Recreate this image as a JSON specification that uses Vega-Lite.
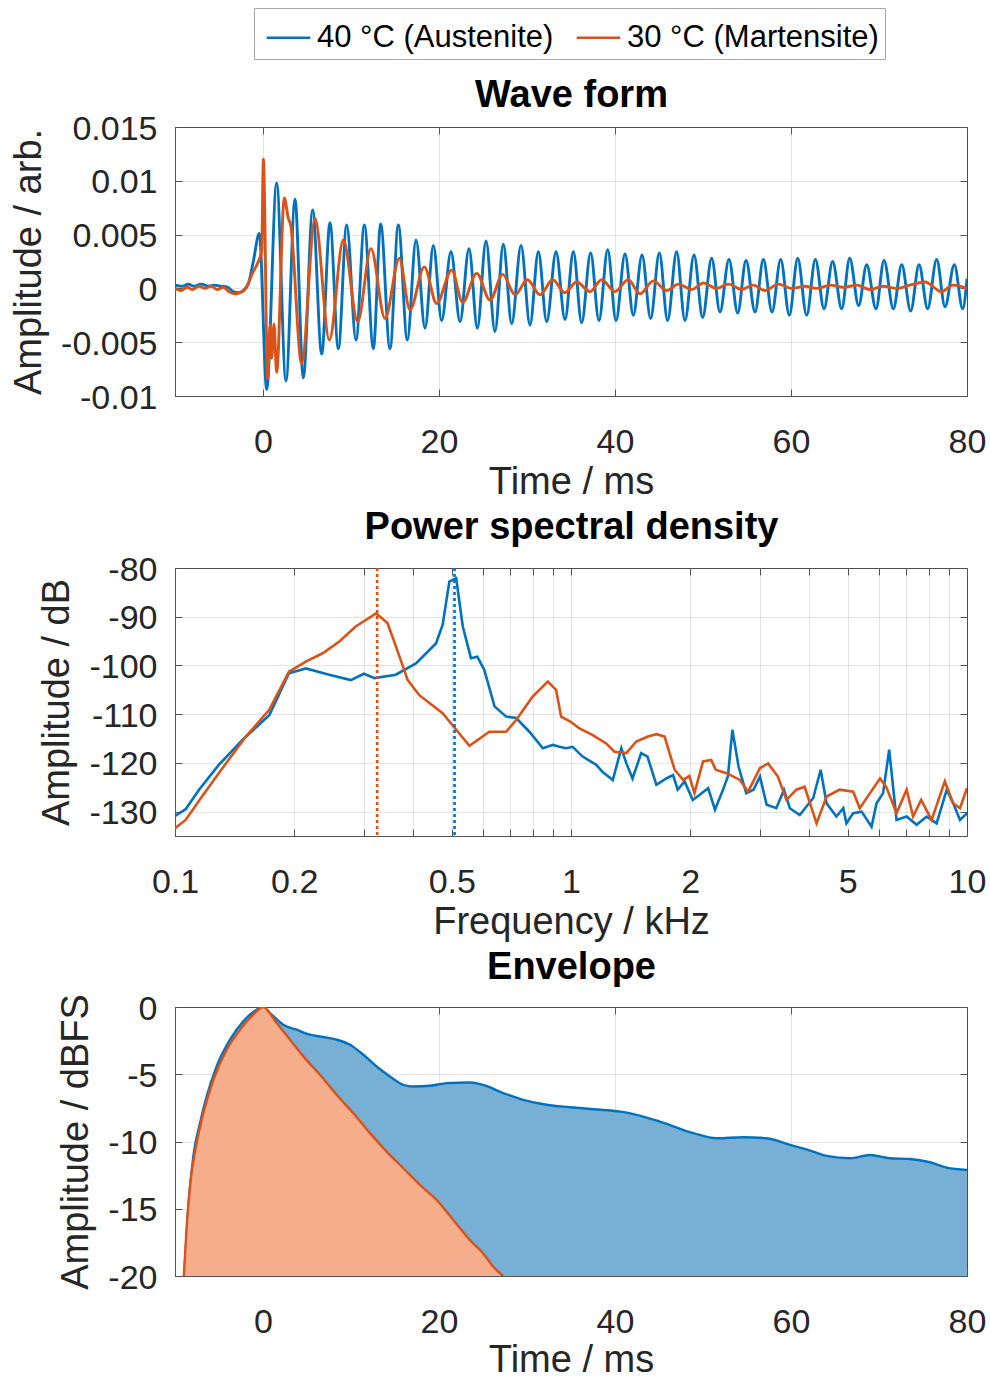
{
  "$schema": "https://vega.github.io/schema/vega-lite/v6.json",
  "padding": {"left": 10, "top": 7, "right": 20, "bottom": 0},
  "background": "white",
  "config": {
    "font": "Liberation Sans",
    "view": {"stroke": "#555555", "strokeWidth": 1},
    "axis": {
      "labelFont": "Liberation Sans", "titleFont": "Liberation Sans",
      "labelFontSize": 34, "titleFontSize": 38, "titleFontWeight": "normal",
      "labelColor": "#262626", "titleColor": "#262626",
      "domainColor": "#555555", "tickColor": "#555555", "tickSize": -7,
      "gridColor": "#000000", "gridOpacity": 0.1, "zindex": 1
    },
    "axisX": {"labelPadding": 36, "titlePadding": 4, "labelFlush": false},
    "axisY": {"labelPadding": 25, "titlePadding": 12, "labelOffset": 2},
    "axisTop": {"titleFontWeight": "bold", "titleColor": "#000000", "titleBaseline": "alphabetic", "labels": false, "grid": false, "domain": false}
  },
  "datasets": {
    "wave": [
      {"s":"A","t":-10,"v":0.0003},{"s":"A","t":-9.2,"v":0.0002},{"s":"A","t":-8.5,"v":0.0004},{"s":"A","t":-7.8,"v":0.0002},
      {"s":"A","t":-7,"v":0.0004},{"s":"A","t":-6.2,"v":0.0002},{"s":"A","t":-5.5,"v":0.0003},{"s":"A","t":-4.8,"v":0.0002},
      {"s":"A","t":-4,"v":0.0001},{"s":"A","t":-3.4,"v":-0.0003},{"s":"A","t":-2.8,"v":-0.0004},{"s":"A","t":-2.2,"v":-0.0002},
      {"s":"A","t":-1.6,"v":0.0006},{"s":"A","t":-1.1,"v":0.0025},{"s":"A","t":-0.42,"v":0.0051},{"s":"A","t":0.42,"v":-0.0094},
      {"s":"A","t":1.55,"v":0.0098},{"s":"A","t":2.61,"v":-0.0086},{"s":"A","t":3.64,"v":0.0083},{"s":"A","t":4.58,"v":-0.0083},
      {"s":"A","t":5.64,"v":0.0073},{"s":"A","t":6.67,"v":-0.0061},{"s":"A","t":7.61,"v":0.0061},{"s":"A","t":8.56,"v":-0.0056},
      {"s":"A","t":9.51,"v":0.0059},{"s":"A","t":10.57,"v":-0.0048},{"s":"A","t":11.52,"v":0.0059},{"s":"A","t":12.54,"v":-0.0056},
      {"s":"A","t":13.37,"v":0.006},{"s":"A","t":14.43,"v":-0.0056},{"s":"A","t":15.38,"v":0.0059},{"s":"A","t":16.4,"v":-0.0048},
      {"s":"A","t":17.39,"v":0.0045},{"s":"A","t":18.41,"v":-0.0037},{"s":"A","t":19.36,"v":0.004},{"s":"A","t":20.3,"v":-0.003},
      {"s":"A","t":21.36,"v":0.0034},{"s":"A","t":22.39,"v":-0.0031},{"s":"A","t":23.41,"v":0.0037},{"s":"A","t":24.36,"v":-0.0037},
      {"s":"A","t":25.34,"v":0.0044},{"s":"A","t":26.36,"v":-0.004},{"s":"A","t":27.31,"v":0.0041},{"s":"A","t":28.26,"v":-0.0033},
      {"s":"A","t":29.32,"v":0.004},{"s":"A","t":30.34,"v":-0.0034},{"s":"A","t":31.29,"v":0.0034},{"s":"A","t":32.24,"v":-0.0031},
      {"s":"A","t":33.3,"v":0.0034},{"s":"A","t":34.32,"v":-0.0029},{"s":"A","t":35.27,"v":0.0034},{"s":"A","t":36.21,"v":-0.0032},
      {"s":"A","t":37.23,"v":0.0033},{"s":"A","t":38.18,"v":-0.003},{"s":"A","t":39.17,"v":0.0036},{"s":"A","t":40.11,"v":-0.003},
      {"s":"A","t":41.14,"v":0.0032},{"s":"A","t":42.08,"v":-0.0025},{"s":"A","t":43.07,"v":0.0031},{"s":"A","t":44.05,"v":-0.0028},
      {"s":"A","t":45.04,"v":0.0033},{"s":"A","t":45.98,"v":-0.003},{"s":"A","t":47.0,"v":0.0034},{"s":"A","t":47.95,"v":-0.003},
      {"s":"A","t":48.98,"v":0.0031},{"s":"A","t":49.96,"v":-0.0027},{"s":"A","t":50.98,"v":0.0028},{"s":"A","t":51.93,"v":-0.0022},
      {"s":"A","t":52.95,"v":0.0027},{"s":"A","t":53.94,"v":-0.0023},{"s":"A","t":54.89,"v":0.0026},{"s":"A","t":55.91,"v":-0.0022},
      {"s":"A","t":56.86,"v":0.0027},{"s":"A","t":57.84,"v":-0.0022},{"s":"A","t":58.83,"v":0.0027},{"s":"A","t":59.81,"v":-0.0025},
      {"s":"A","t":60.76,"v":0.0028},{"s":"A","t":61.78,"v":-0.0025},{"s":"A","t":62.77,"v":0.0027},{"s":"A","t":63.75,"v":-0.0019},
      {"s":"A","t":64.73,"v":0.0025},{"s":"A","t":65.76,"v":-0.0019},{"s":"A","t":66.67,"v":0.0028},{"s":"A","t":67.69,"v":-0.0016},
      {"s":"A","t":68.6,"v":0.0022},{"s":"A","t":69.66,"v":-0.0019},{"s":"A","t":70.57,"v":0.0026},{"s":"A","t":71.63,"v":-0.0019},
      {"s":"A","t":72.58,"v":0.0022},{"s":"A","t":73.6,"v":-0.0021},{"s":"A","t":74.55,"v":0.0022},{"s":"A","t":75.53,"v":-0.0019},
      {"s":"A","t":76.55,"v":0.0027},{"s":"A","t":77.5,"v":-0.0017},{"s":"A","t":78.56,"v":0.0022},{"s":"A","t":79.51,"v":-0.0019},
      {"s":"A","t":80,"v":0.0009},
      {"s":"M","t":-10,"v":0.0},{"s":"M","t":-9.3,"v":-0.0002},{"s":"M","t":-8.6,"v":0.0001},{"s":"M","t":-8.0,"v":-0.0001},
      {"s":"M","t":-7.3,"v":0.0002},{"s":"M","t":-6.6,"v":0.0},{"s":"M","t":-5.9,"v":0.0002},{"s":"M","t":-5.2,"v":-0.0001},
      {"s":"M","t":-4.5,"v":0.0001},{"s":"M","t":-3.9,"v":-0.0003},{"s":"M","t":-3.2,"v":-0.0005},{"s":"M","t":-2.6,"v":-0.0004},
      {"s":"M","t":-1.9,"v":0.0001},{"s":"M","t":-1.2,"v":0.0014},{"s":"M","t":-0.53,"v":0.0025},{"s":"M","t":-0.15,"v":0.0035},
      {"s":"M","t":0.04,"v":0.012},{"s":"M","t":0.53,"v":-0.0084},{"s":"M","t":0.8,"v":-0.0034},{"s":"M","t":0.98,"v":-0.0065},
      {"s":"M","t":1.25,"v":-0.0033},{"s":"M","t":1.55,"v":-0.0078},{"s":"M","t":2.42,"v":0.0084},{"s":"M","t":2.88,"v":0.0065},
      {"s":"M","t":3.14,"v":0.0059},{"s":"M","t":4.39,"v":-0.007},{"s":"M","t":5.91,"v":0.0065},{"s":"M","t":7.54,"v":-0.0048},
      {"s":"M","t":9.13,"v":0.0045},{"s":"M","t":10.76,"v":-0.0031},{"s":"M","t":12.27,"v":0.0037},{"s":"M","t":13.86,"v":-0.0028},
      {"s":"M","t":15.49,"v":0.0028},{"s":"M","t":16.7,"v":-0.002},{"s":"M","t":18.33,"v":0.002},{"s":"M","t":19.73,"v":-0.0014},
      {"s":"M","t":21.44,"v":0.0017},{"s":"M","t":22.69,"v":-0.0013},{"s":"M","t":24.28,"v":0.0014},{"s":"M","t":25.8,"v":-0.0011},
      {"s":"M","t":27.24,"v":0.0013},{"s":"M","t":28.64,"v":-0.0006},{"s":"M","t":30.04,"v":0.0008},{"s":"M","t":31.48,"v":-0.0006},
      {"s":"M","t":32.92,"v":0.0008},{"s":"M","t":34.3,"v":-0.0004},{"s":"M","t":35.64,"v":0.0006},{"s":"M","t":37.16,"v":-0.0003},
      {"s":"M","t":38.48,"v":0.0008},{"s":"M","t":40.0,"v":-0.0003},{"s":"M","t":41.5,"v":0.0008},{"s":"M","t":42.84,"v":-0.0005},
      {"s":"M","t":44.36,"v":0.0007},{"s":"M","t":45.87,"v":-0.0002},{"s":"M","t":47.2,"v":0.0004},{"s":"M","t":48.71,"v":-0.0001},
      {"s":"M","t":50.04,"v":0.0005},{"s":"M","t":51.55,"v":0.0},{"s":"M","t":52.88,"v":0.0004},{"s":"M","t":54.39,"v":-0.0001},
      {"s":"M","t":55.72,"v":0.0003},{"s":"M","t":57.04,"v":-0.0002},{"s":"M","t":58.56,"v":0.0004},{"s":"M","t":60.08,"v":0.0},
      {"s":"M","t":61.59,"v":0.0002},{"s":"M","t":62.92,"v":0.0},{"s":"M","t":64.43,"v":0.0003},{"s":"M","t":65.95,"v":0.0001},
      {"s":"M","t":67.46,"v":0.0003},{"s":"M","t":68.98,"v":-0.0001},{"s":"M","t":70.5,"v":0.0002},{"s":"M","t":72.0,"v":0.0},
      {"s":"M","t":73.5,"v":0.0003},{"s":"M","t":75.23,"v":0.0006},{"s":"M","t":77.1,"v":-0.0003},{"s":"M","t":78.4,"v":0.0003},
      {"s":"M","t":80,"v":0.0}
    ],
    "psd": [
      {"s":"A","f":0.1,"db":-130.9},{"s":"A","f":0.1064,"db":-129.5},{"s":"A","f":0.115,"db":-125.5},{"s":"A","f":0.129,"db":-120.4},
      {"s":"A","f":0.148,"db":-115.3},{"s":"A","f":0.173,"db":-110.2},{"s":"A","f":0.194,"db":-101.6},{"s":"A","f":0.214,"db":-100.6},
      {"s":"A","f":0.245,"db":-101.9},{"s":"A","f":0.278,"db":-103.0},{"s":"A","f":0.3,"db":-101.7},{"s":"A","f":0.319,"db":-102.6},
      {"s":"A","f":0.361,"db":-101.9},{"s":"A","f":0.406,"db":-99.6},{"s":"A","f":0.456,"db":-95.5},{"s":"A","f":0.474,"db":-91.7},
      {"s":"A","f":0.493,"db":-82.8},{"s":"A","f":0.513,"db":-82.1},{"s":"A","f":0.533,"db":-92.0},{"s":"A","f":0.559,"db":-98.5},
      {"s":"A","f":0.58,"db":-98.2},{"s":"A","f":0.604,"db":-100.9},{"s":"A","f":0.641,"db":-108.4},{"s":"A","f":0.686,"db":-110.5},
      {"s":"A","f":0.727,"db":-110.8},{"s":"A","f":0.785,"db":-113.6},{"s":"A","f":0.849,"db":-117.0},{"s":"A","f":0.9,"db":-116.3},
      {"s":"A","f":0.935,"db":-116.7},{"s":"A","f":0.972,"db":-117.0},{"s":"A","f":1.01,"db":-116.7},{"s":"A","f":1.07,"db":-118.7},
      {"s":"A","f":1.158,"db":-120.4},{"s":"A","f":1.2,"db":-121.8},{"s":"A","f":1.275,"db":-123.5},{"s":"A","f":1.34,"db":-117.0},
      {"s":"A","f":1.38,"db":-120.1},{"s":"A","f":1.43,"db":-123.2},{"s":"A","f":1.504,"db":-118.0},{"s":"A","f":1.56,"db":-118.7},
      {"s":"A","f":1.643,"db":-124.5},{"s":"A","f":1.741,"db":-123.2},{"s":"A","f":1.81,"db":-122.5},{"s":"A","f":1.86,"db":-125.5},
      {"s":"A","f":1.936,"db":-123.8},{"s":"A","f":2.03,"db":-127.6},{"s":"A","f":2.11,"db":-126.6},{"s":"A","f":2.22,"db":-125.2},
      {"s":"A","f":2.31,"db":-129.6},{"s":"A","f":2.42,"db":-125.5},{"s":"A","f":2.49,"db":-122.8},{"s":"A","f":2.556,"db":-113.2},
      {"s":"A","f":2.65,"db":-120.8},{"s":"A","f":2.77,"db":-126.2},{"s":"A","f":2.89,"db":-125.5},{"s":"A","f":3.0,"db":-122.8},
      {"s":"A","f":3.12,"db":-128.6},{"s":"A","f":3.3,"db":-129.3},{"s":"A","f":3.45,"db":-125.5},{"s":"A","f":3.57,"db":-129.3},
      {"s":"A","f":3.78,"db":-130.7},{"s":"A","f":4.09,"db":-127.2},{"s":"A","f":4.27,"db":-121.4},{"s":"A","f":4.42,"db":-128.3},
      {"s":"A","f":4.68,"db":-131.0},{"s":"A","f":4.87,"db":-129.3},{"s":"A","f":4.96,"db":-132.4},{"s":"A","f":5.16,"db":-130.3},
      {"s":"A","f":5.42,"db":-130.0},{"s":"A","f":5.74,"db":-133.1},{"s":"A","f":5.91,"db":-128.3},{"s":"A","f":6.14,"db":-126.2},
      {"s":"A","f":6.36,"db":-117.3},{"s":"A","f":6.64,"db":-131.7},{"s":"A","f":7.04,"db":-131.0},{"s":"A","f":7.46,"db":-132.7},
      {"s":"A","f":7.91,"db":-131.0},{"s":"A","f":8.38,"db":-132.4},{"s":"A","f":8.89,"db":-125.5},{"s":"A","f":9.23,"db":-128.3},
      {"s":"A","f":9.6,"db":-131.7},{"s":"A","f":10,"db":-130.3},
      {"s":"M","f":0.1,"db":-133.4},{"s":"M","f":0.1064,"db":-131.7},{"s":"M","f":0.117,"db":-126.9},{"s":"M","f":0.1317,"db":-121.1},
      {"s":"M","f":0.151,"db":-114.6},{"s":"M","f":0.173,"db":-109.1},{"s":"M","f":0.194,"db":-101.3},{"s":"M","f":0.214,"db":-99.2},
      {"s":"M","f":0.236,"db":-97.5},{"s":"M","f":0.26,"db":-95.1},{"s":"M","f":0.286,"db":-92.0},{"s":"M","f":0.322,"db":-89.3},
      {"s":"M","f":0.344,"db":-91.3},{"s":"M","f":0.369,"db":-98.2},{"s":"M","f":0.387,"db":-103.0},{"s":"M","f":0.414,"db":-106.1},
      {"s":"M","f":0.474,"db":-109.8},{"s":"M","f":0.513,"db":-113.2},{"s":"M","f":0.554,"db":-116.5},{"s":"M","f":0.622,"db":-113.6},
      {"s":"M","f":0.686,"db":-113.6},{"s":"M","f":0.727,"db":-111.2},{"s":"M","f":0.8,"db":-106.4},{"s":"M","f":0.874,"db":-103.3},
      {"s":"M","f":0.917,"db":-105.0},{"s":"M","f":0.944,"db":-110.5},{"s":"M","f":0.996,"db":-111.5},{"s":"M","f":1.05,"db":-112.9},
      {"s":"M","f":1.135,"db":-114.3},{"s":"M","f":1.227,"db":-116.0},{"s":"M","f":1.288,"db":-117.7},{"s":"M","f":1.38,"db":-118.0},
      {"s":"M","f":1.462,"db":-115.6},{"s":"M","f":1.564,"db":-114.6},{"s":"M","f":1.643,"db":-114.1},{"s":"M","f":1.723,"db":-114.6},
      {"s":"M","f":1.827,"db":-121.4},{"s":"M","f":1.92,"db":-123.5},{"s":"M","f":1.99,"db":-122.7},{"s":"M","f":2.05,"db":-126.2},
      {"s":"M","f":2.155,"db":-119.7},{"s":"M","f":2.26,"db":-119.4},{"s":"M","f":2.32,"db":-121.4},{"s":"M","f":2.47,"db":-122.1},
      {"s":"M","f":2.67,"db":-123.5},{"s":"M","f":2.8,"db":-125.9},{"s":"M","f":3.0,"db":-121.1},{"s":"M","f":3.146,"db":-120.1},
      {"s":"M","f":3.33,"db":-122.8},{"s":"M","f":3.5,"db":-127.6},{"s":"M","f":3.71,"db":-125.5},{"s":"M","f":3.89,"db":-124.9},
      {"s":"M","f":4.17,"db":-132.4},{"s":"M","f":4.42,"db":-126.9},{"s":"M","f":4.77,"db":-125.5},{"s":"M","f":5.16,"db":-125.9},
      {"s":"M","f":5.36,"db":-129.3},{"s":"M","f":5.69,"db":-126.2},{"s":"M","f":6.03,"db":-123.2},{"s":"M","f":6.25,"db":-124.9},
      {"s":"M","f":6.64,"db":-130.3},{"s":"M","f":7.04,"db":-125.5},{"s":"M","f":7.31,"db":-131.0},{"s":"M","f":7.66,"db":-127.6},
      {"s":"M","f":8.14,"db":-131.7},{"s":"M","f":8.79,"db":-123.8},{"s":"M","f":9.23,"db":-128.3},{"s":"M","f":9.6,"db":-129.3},
      {"s":"M","f":10,"db":-125.2}
    ],
    "peaks": [
      {"s":"M","f":0.324},{"s":"A","f":0.508}
    ],
    "env": [
      {"s":"A","t":-8.95,"db":-20},{"s":"A","t":-8.48,"db":-14.85},{"s":"A","t":-7.92,"db":-11.1},{"s":"A","t":-7.16,"db":-8.64},
      {"s":"A","t":-6.4,"db":-6.65},{"s":"A","t":-5.27,"db":-4.42},{"s":"A","t":-3.75,"db":-2.43},{"s":"A","t":-2.24,"db":-1.07},
      {"s":"A","t":-0.72,"db":-0.2},{"s":"A","t":0,"db":0},{"s":"A","t":0.8,"db":-0.45},{"s":"A","t":2.3,"db":-1.32},
      {"s":"A","t":3.83,"db":-1.69},{"s":"A","t":5.34,"db":-2.06},{"s":"A","t":6.86,"db":-2.23},{"s":"A","t":8.37,"db":-2.43},
      {"s":"A","t":9.89,"db":-2.81},{"s":"A","t":11.4,"db":-3.55},{"s":"A","t":12.92,"db":-4.42},{"s":"A","t":14.43,"db":-5.17},
      {"s":"A","t":15.95,"db":-5.79},{"s":"A","t":17.08,"db":-5.91},{"s":"A","t":18.98,"db":-5.86},{"s":"A","t":20.87,"db":-5.66},
      {"s":"A","t":23.52,"db":-5.61},{"s":"A","t":25.03,"db":-5.79},{"s":"A","t":27.3,"db":-6.4},{"s":"A","t":29.58,"db":-6.9},
      {"s":"A","t":32.24,"db":-7.27},{"s":"A","t":34.89,"db":-7.45},{"s":"A","t":37.54,"db":-7.6},{"s":"A","t":41.33,"db":-7.85},
      {"s":"A","t":45.11,"db":-8.52},{"s":"A","t":48.9,"db":-9.38},{"s":"A","t":51.55,"db":-9.76},{"s":"A","t":54.58,"db":-9.68},
      {"s":"A","t":57.23,"db":-9.76},{"s":"A","t":59.89,"db":-10.25},{"s":"A","t":62.54,"db":-10.75},{"s":"A","t":64.05,"db":-11.07},
      {"s":"A","t":66.7,"db":-11.25},{"s":"A","t":68.98,"db":-11.0},{"s":"A","t":71.25,"db":-11.25},{"s":"A","t":73.52,"db":-11.3},
      {"s":"A","t":75.8,"db":-11.54},{"s":"A","t":77.69,"db":-11.94},{"s":"A","t":80,"db":-12.11},
      {"s":"M","t":-9.0,"db":-20},{"s":"M","t":-8.67,"db":-16.34},{"s":"M","t":-8.3,"db":-13.36},{"s":"M","t":-7.54,"db":-10.13},
      {"s":"M","t":-6.78,"db":-7.9},{"s":"M","t":-5.64,"db":-5.41},{"s":"M","t":-4.13,"db":-3.18},{"s":"M","t":-2.61,"db":-1.69},
      {"s":"M","t":-1.1,"db":-0.57},{"s":"M","t":0,"db":0},{"s":"M","t":1.55,"db":-1.19},{"s":"M","t":3.07,"db":-2.43},
      {"s":"M","t":4.58,"db":-3.67},{"s":"M","t":6.48,"db":-5.04},{"s":"M","t":8.37,"db":-6.53},{"s":"M","t":10.27,"db":-7.9},
      {"s":"M","t":12.16,"db":-9.38},{"s":"M","t":14.05,"db":-10.75},{"s":"M","t":15.95,"db":-11.99},{"s":"M","t":17.84,"db":-13.23},
      {"s":"M","t":19.73,"db":-14.35},{"s":"M","t":21.63,"db":-15.84},{"s":"M","t":23.52,"db":-17.33},{"s":"M","t":25.03,"db":-18.32},
      {"s":"M","t":26.17,"db":-19.31},{"s":"M","t":27.3,"db":-20}
    ]
  },
  "resolve": {"scale": {"color": "independent"}, "legend": {"color": "independent"}},
  "spacing": 6,
  "vconcat": [
    {
      "width": 792, "height": 269,
      "data": {"name": "wave"},
      "resolve": {"axis": {"x": "independent", "y": "independent"}},
      "layer": [
        {
          "transform": [{"filter": "datum.s == 'A'"}],
          "mark": {"type": "line", "interpolate": "monotone", "strokeWidth": 2.9, "clip": true},
          "encoding": {
            "x": {"field": "t", "type": "quantitative", "scale": {"domain": [-10, 80], "nice": false, "zero": false},
                  "axis": {"title": "Time / ms", "values": [0, 20, 40, 60, 80]}},
            "y": {"field": "v", "type": "quantitative", "scale": {"domain": [-0.01, 0.015], "nice": false, "zero": false},
                  "axis": {"title": "Amplitude / arb.", "values": [-0.01, -0.005, 0, 0.005, 0.01, 0.015], "labelExpr": "toString(datum.value)"}},
            "color": {"field": "s", "type": "nominal", "scale": {"domain": ["A", "M"], "range": ["#0072BD", "#D95319"]},
                      "legend": {"orient": "none", "legendX": 79, "legendY": -119, "direction": "horizontal", "title": null,
                                 "labelFontSize": 31, "labelColor": "#000000", "labelFont": "Liberation Sans", "labelLimit": 400,
                                 "symbolType": "stroke", "symbolSize": 1900, "symbolStrokeWidth": 2.5, "symbolOffset": 5,
                                 "strokeColor": "#a6a6a6", "fillColor": "#ffffff", "padding": 6, "labelOffset": 5, "columnPadding": 16,
                                 "labelExpr": "datum.label == 'A' ? '40 °C (Austenite)' : '30 °C (Martensite)'"}}
          }
        },
        {
          "transform": [{"filter": "datum.s == 'M'"}],
          "mark": {"type": "line", "interpolate": "monotone", "strokeWidth": 2.9, "clip": true},
          "encoding": {
            "x": {"field": "t", "type": "quantitative",
                  "axis": {"orient": "top", "title": "Wave form", "titlePadding": 20, "values": [0, 20, 40, 60, 80]}},
            "y": {"field": "v", "type": "quantitative",
                  "axis": {"orient": "right", "labels": false, "title": null, "grid": false, "domain": false, "values": [-0.01, -0.005, 0, 0.005, 0.01, 0.015]}},
            "color": {"field": "s", "type": "nominal"}
          }
        }
      ]
    },
    {
      "width": 792, "height": 268,
      "resolve": {"axis": {"x": "independent", "y": "independent"}},
      "layer": [
        {
          "data": {"name": "psd"},
          "transform": [{"filter": "datum.s == 'A'"}],
          "mark": {"type": "line", "strokeWidth": 2.6, "color": "#0072BD", "clip": true},
          "encoding": {
            "x": {"field": "f", "type": "quantitative", "scale": {"type": "log", "domain": [0.1, 10], "nice": false},
                  "axis": {"title": "Frequency / kHz", "values": [0.1,0.2,0.3,0.4,0.5,0.6,0.7,0.8,0.9,1,2,3,4,5,6,7,8,9,10],
                           "labelExpr": "indexof([0.1,0.2,0.5,1,2,5,10], datum.value) >= 0 ? toString(datum.value) : ''"}},
            "y": {"field": "db", "type": "quantitative", "scale": {"domain": [-135, -80], "nice": false, "zero": false},
                  "axis": {"title": "Amplitude / dB", "values": [-130, -120, -110, -100, -90, -80], "labelExpr": "toString(datum.value)"}}
          }
        },
        {
          "data": {"name": "psd"},
          "transform": [{"filter": "datum.s == 'M'"}],
          "mark": {"type": "line", "strokeWidth": 2.6, "color": "#D95319", "clip": true},
          "encoding": {
            "x": {"field": "f", "type": "quantitative",
                  "axis": {"orient": "top", "title": "Power spectral density", "titlePadding": 29,
                           "values": [0.1,0.2,0.3,0.4,0.5,0.6,0.7,0.8,0.9,1,2,3,4,5,6,7,8,9,10]}},
            "y": {"field": "db", "type": "quantitative",
                  "axis": {"orient": "right", "labels": false, "title": null, "grid": false, "domain": false, "values": [-130, -120, -110, -100, -90, -80]}}
          }
        },
        {
          "data": {"name": "peaks"},
          "transform": [{"filter": "datum.s == 'M'"}],
          "mark": {"type": "rule", "strokeWidth": 2.6, "strokeDash": [3, 3], "color": "#D95319"},
          "encoding": {
            "x": {"field": "f", "type": "quantitative", "axis": null}
          }
        },
        {
          "data": {"name": "peaks"},
          "transform": [{"filter": "datum.s == 'A'"}],
          "mark": {"type": "rule", "strokeWidth": 2.6, "strokeDash": [3, 3], "color": "#0072BD"},
          "encoding": {
            "x": {"field": "f", "type": "quantitative", "axis": null}
          }
        }
      ]
    },
    {
      "width": 792, "height": 269,
      "data": {"name": "env"},
      "resolve": {"axis": {"x": "independent", "y": "independent"}},
      "layer": [
        {
          "transform": [{"filter": "datum.s == 'A'"}],
          "mark": {"type": "area", "interpolate": "monotone", "color": "#78AFD5", "clip": true},
          "encoding": {
            "x": {"field": "t", "type": "quantitative", "scale": {"domain": [-10, 80], "nice": false, "zero": false},
                  "axis": {"title": "Time / ms", "titlePadding": 2, "values": [0, 20, 40, 60, 80]}},
            "y": {"field": "db", "type": "quantitative", "scale": {"domain": [-20, 0], "nice": false, "zero": false},
                  "axis": {"title": "Amplitude / dBFS", "values": [-20, -15, -10, -5, 0], "labelExpr": "toString(datum.value)"}},
            "y2": {"datum": -20}
          }
        },
        {
          "transform": [{"filter": "datum.s == 'A'"}],
          "mark": {"type": "line", "interpolate": "monotone", "color": "#0072BD", "strokeWidth": 2.4, "clip": true},
          "encoding": {
            "x": {"field": "t", "type": "quantitative", "axis": null},
            "y": {"field": "db", "type": "quantitative", "axis": null}
          }
        },
        {
          "transform": [{"filter": "datum.s == 'M'"}],
          "mark": {"type": "area", "interpolate": "monotone", "color": "#F5AD8C", "clip": true},
          "encoding": {
            "x": {"field": "t", "type": "quantitative", "axis": null},
            "y": {"field": "db", "type": "quantitative", "axis": null},
            "y2": {"datum": -20}
          }
        },
        {
          "transform": [{"filter": "datum.s == 'M'"}],
          "mark": {"type": "line", "interpolate": "monotone", "color": "#D95319", "strokeWidth": 2.4, "clip": true},
          "encoding": {
            "x": {"field": "t", "type": "quantitative",
                  "axis": {"orient": "top", "title": "Envelope", "titlePadding": 28, "values": [0, 20, 40, 60, 80]}},
            "y": {"field": "db", "type": "quantitative",
                  "axis": {"orient": "right", "labels": false, "title": null, "grid": false, "domain": false, "values": [-20, -15, -10, -5, 0]}}
          }
        }
      ]
    }
  ]
}
